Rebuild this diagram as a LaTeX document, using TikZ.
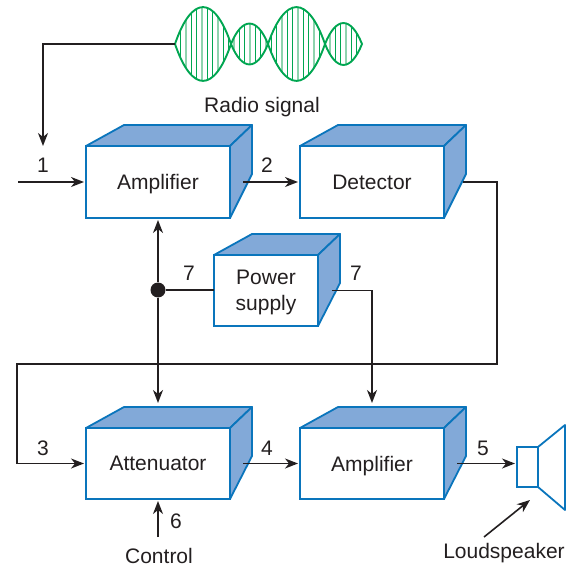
\documentclass[tikz,border=0pt]{standalone}
\usepackage{fontspec}
\setmainfont{Liberation Sans}
\usetikzlibrary{arrows.meta,positioning}
\definecolor{boxblue}{HTML}{0A75BC}
\definecolor{faceblue}{HTML}{82A9D8}
\definecolor{wavegreen}{HTML}{00A651}
\definecolor{palegreen}{HTML}{8FD3AE}
\definecolor{wire}{HTML}{231F20}
\tikzset{
  unit/.style={draw=boxblue,line width=1.8pt,fill=white,align=center,inner sep=0pt,outer sep=0pt,text=wire,text depth=0pt},
  face/.style={draw=boxblue,line width=1.8pt,fill=faceblue,line join=round},
  wave/.style={draw=wavegreen,line width=1.9pt},
  line/.style={draw=wire,line width=1.6pt},
  link/.style={line,-{Stealth[length=13pt,width=10pt,inset=4pt]},shorten >=2pt},
  numtag/.style={text=wire,inner sep=0pt},
}
% name, left, top, width, height, text
\newcommand{\unitbox}[6]{
  \draw[face] (#2,#3) -- ++(38,-21) -- ++(#4-16,0) -- ++(-22,21) -- cycle;
  \draw[face] (#2+#4,#3) -- ++(22,-21) -- ++(0,49) -- (#2+#4,#3+#5) -- cycle;
  \node[unit,anchor=north west,minimum width=#4pt,minimum height=#5pt] (#1) at (#2,#3) {#6};
}
% from, to, amplitude
\newcommand{\lobe}[3]{
  (#1,44) .. controls ({#1+0.3*(#2-#1)},{44-1.33*#3}) and ({#1+0.7*(#2-#1)},{44-1.33*#3}) .. (#2,44)
  .. controls ({#1+0.7*(#2-#1)},{44+1.33*#3}) and ({#1+0.3*(#2-#1)},{44+1.33*#3}) .. (#1,44) -- cycle
}
\newcommand{\wavepath}{\lobe{175}{231}{37} \lobe{231}{268}{20.5} \lobe{268}{325}{37} \lobe{325}{362}{21}}
\begin{document}
\begin{tikzpicture}[x=1pt,y=-1pt,font=\fontsize{21}{26}\selectfont]
\useasboundingbox (0,0) rectangle (578,569);
% radio signal
\begin{scope}
\clip \wavepath;
\foreach \i in {-2,...,33} {
  \pgfmathtruncatemacro{\rest}{mod(\i+3,3)}
  \ifnum\rest=0
    \draw[palegreen,line width=1.7pt] ({186+5.33*\i},0) -- ({186+5.33*\i},90);
  \else
    \draw[wavegreen,line width=0.9pt] ({186+5.33*\i},0) -- ({186+5.33*\i},90);
  \fi
}
\end{scope}
\draw[wave] \wavepath;
\node[numtag] (radio) at (262,107.5) {Radio signal};
% units
\unitbox{amp}{86}{146}{144}{72}{Amplifier}
\unitbox{det}{300}{146}{144}{72}{Detector}
\unitbox{power}{214}{255}{104}{71}{Power\\supply}
\unitbox{att}{86}{428}{144}{71}{Attenuator}
\unitbox{amptwo}{300}{428}{144}{71}{Amplifier}
% loudspeaker
\draw[boxblue,line width=1.8pt,line join=round] (538,447) -- (565,425) -- (565,510) -- (538,487);
\node[draw=boxblue,line width=1.8pt,inner sep=0pt,outer sep=0pt,minimum width=21pt,minimum height=40pt] (spk) at (527.5,467) {};
% free ends
\coordinate (wavein) at (175,44);
\coordinate (antenna) at (43,148);
\coordinate (start) at (18,182);
\coordinate (busr) at (497,364);
\coordinate (busl) at (17,364);
\coordinate (ctrl) at (158,537);
\coordinate (spktail) at (484,537);
\coordinate (spkin) at (530,500);
\node[circle,fill=wire,inner sep=0pt,minimum size=15pt] (dot) at (158,290) {};
% connectors
\draw[link] (wavein) -| (antenna);
\draw[link] (start) -- (amp.west);
\draw[link] ([xshift=13pt]amp.east) -- (det.west);
\draw[link] ([xshift=19pt]det.east) -| (busr) -- (busl) |- (att.west);
\draw[link] (dot) -- (amp.south);
\draw[link,shorten >=25pt] (dot) -- (att.north);
\draw[line] (dot) -- (dot -| power.west);
\draw[link,shorten >=25pt] ([xshift=14pt]power.east) -| (amptwo.north);
\draw[link] ([xshift=13pt]att.east) -- (amptwo.west);
\draw[link] ([xshift=13pt]amptwo.east) -- (amptwo.east -| spk.west);
\draw[link] (ctrl) -- (att.south);
% labels
\node[numtag] (one) at (43,165) {1};
\node[numtag] (two) at (267,165) {2};
\node[numtag] (three) at (43,448) {3};
\node[numtag] (four) at (267,448) {4};
\node[numtag] (five) at (483,448) {5};
\node[numtag] (six) at (176,521) {6};
\node[numtag] (sevena) at (189,273) {7};
\node[numtag] (sevenb) at (356,273) {7};
\node[numtag] (control) at (159,556) {Control};
\node[numtag] (lsp) at (504,553.5) {Loudspeaker};
\draw[link,shorten >=0pt] (spktail) -- (spkin);
\end{tikzpicture}
\end{document}
